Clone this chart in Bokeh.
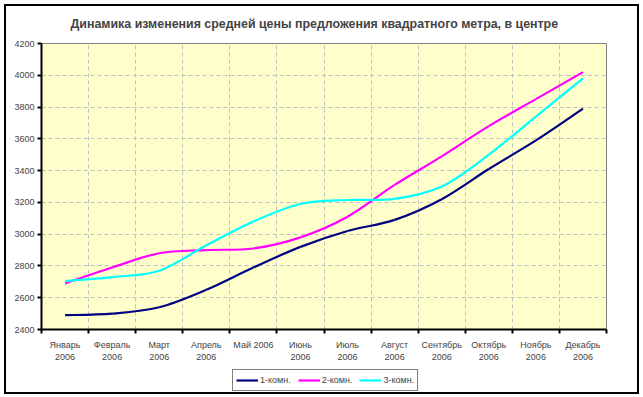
from bokeh.plotting import figure
from bokeh.layouts import column
from bokeh.models import FixedTicker, Legend, LegendItem
from bokeh.embed import file_html
from bokeh.resources import INLINE

# ---- data ----
months = ["Январь\n2006", "Февраль\n2006", "Март\n2006", "Апрель\n2006", "Май 2006",
          "Июнь\n2006", "Июль\n2006", "Август\n2006", "Сентябрь\n2006",
          "Октябрь\n2006", "Ноябрь\n2006", "Декабрь\n2006"]
room1 = [2490, 2500, 2540, 2650, 2790, 2920, 3020, 3090, 3220, 3410, 3590, 3790]
room2 = [2690, 2790, 2880, 2900, 2910, 2980, 3110, 3310, 3490, 3680, 3850, 4020]
room3 = [2705, 2730, 2770, 2930, 3080, 3190, 3215, 3222, 3300, 3500, 3740, 3980]
series_names = ["1-комн.", "2-комн.", "3-комн."]
y_ticks = [2400, 2600, 2800, 3000, 3200, 3400, 3600, 3800, 4000, 4200]
title_text = "Динамика изменения средней цены предложения квадратного метра, в центре"

FONT = "Liberation Sans"
colors = ["#000080", "#FF00FF", "#00FFFF"]

xs = [i + 0.5 for i in range(len(months))]

# ---- title strip ----
p0 = figure(width=631, height=34, x_range=(0, 1), y_range=(0, 1),
            output_backend="svg", toolbar_location=None,
            x_axis_type=None, y_axis_type=None,
            min_border_left=35, min_border_right=31, min_border_top=0, min_border_bottom=0)
p0.outline_line_color = None
p0.xgrid.visible = False
p0.ygrid.visible = False
p0.title.text = title_text
p0.title.align = "left"
p0.title.offset = 29
p0.title.text_font = FONT
p0.title.text_font_size = "12.4px"
p0.title.text_font_style = "bold"
p0.title.standoff = 17

# ---- main chart ----
p = figure(width=631, height=325, x_range=(0, 12), y_range=(2400, 4200),
           output_backend="svg", toolbar_location=None,
           min_border_left=35, min_border_right=31, min_border_top=3, min_border_bottom=36)
p.title.visible = False
p.background_fill_color = "#FFFFCC"
p.border_fill_color = "white"
p.outline_line_color = "#808080"
p.outline_line_width = 1

# x axis: labels at category centres, tick marks at category boundaries
xa = p.xaxis[0]
xa.ticker = FixedTicker(ticks=xs, minor_ticks=list(range(13)))
xa.major_label_overrides = {x: m for x, m in zip(xs, months)}
xa.major_tick_in = 0
xa.major_tick_out = 0
xa.minor_tick_in = 0
xa.minor_tick_out = 4
xa.minor_tick_line_color = "black"
xa.minor_tick_line_width = 2
xa.axis_line_color = "black"
xa.axis_line_width = 2
xa.major_label_text_font = FONT
xa.major_label_text_font_size = "9px"
xa.major_label_standoff = 6

ya = p.yaxis[0]
ya.ticker = FixedTicker(ticks=y_ticks, minor_ticks=[])
ya.major_tick_in = 0
ya.major_tick_out = 4
ya.major_tick_line_color = "black"
ya.major_tick_line_width = 2
ya.axis_line_color = "black"
ya.axis_line_width = 2
ya.major_label_text_font = FONT
ya.major_label_text_font_size = "9px"
ya.major_label_standoff = 3

p.xgrid.ticker = FixedTicker(ticks=list(range(1, 12)))
for g in (p.xgrid[0], p.ygrid[0]):
    g.grid_line_color = "#C0C0C0"
    g.grid_line_dash = "4 3"
    g.grid_line_width = 1


def smooth_segments(x, y):
    n = len(x)
    out = dict(x0=[], y0=[], x1=[], y1=[], cx0=[], cy0=[], cx1=[], cy1=[])
    for i in range(n - 1):
        a = max(i - 1, 0)
        d = min(i + 2, n - 1)
        out["x0"].append(x[i]); out["y0"].append(y[i])
        out["x1"].append(x[i + 1]); out["y1"].append(y[i + 1])
        out["cx0"].append(x[i] + (x[i + 1] - x[a]) / 6)
        out["cy0"].append(y[i] + (y[i + 1] - y[a]) / 6)
        out["cx1"].append(x[i + 1] - (x[d] - x[i]) / 6)
        out["cy1"].append(y[i + 1] - (y[d] - y[i]) / 6)
    return out


all_series = [room1, room2, room3]
for vals, c in zip(all_series, colors):
    p.bezier(source=smooth_segments(xs, vals), x0="x0", y0="y0", x1="x1", y1="y1",
             cx0="cx0", cy0="cy0", cx1="cx1", cy1="cy1",
             line_color=c, line_width=2.2)

# ---- legend strip below the chart (same series colours) ----
p2 = figure(width=631, height=27, x_range=(0, 1), y_range=(0, 1),
            output_backend="svg", toolbar_location=None,
            x_axis_type=None, y_axis_type=None,
            min_border_left=35, min_border_right=31, min_border_top=0, min_border_bottom=0)
p2.outline_line_color = None
p2.xgrid.visible = False
p2.ygrid.visible = False
items = []
for name, vals, c in zip(series_names, all_series, colors):
    # single-point line: draws nothing in the strip, only supplies the legend swatch
    r = p2.line(x=[xs[0]], y=[vals[0]], line_color=c, line_width=2.2)
    items.append(LegendItem(label=name, renderers=[r]))
legend = Legend(items=items, orientation="horizontal", location=(191, 1),
                border_line_color="black", border_line_width=1,
                background_fill_color="white", background_fill_alpha=1,
                label_text_font=FONT, label_text_font_size="9px",
                glyph_width=22, glyph_height=14, label_height=14,
                label_standoff=2, spacing=7, padding=3, margin=0)
p2.add_layout(legend, "center")

layout = column(p0, p, p2, spacing=0)
layout.styles = {"margin-left": "6px", "margin-top": "6px", "outline": "2px solid black"}

open("out.html", "w").write(file_html(layout, INLINE))
